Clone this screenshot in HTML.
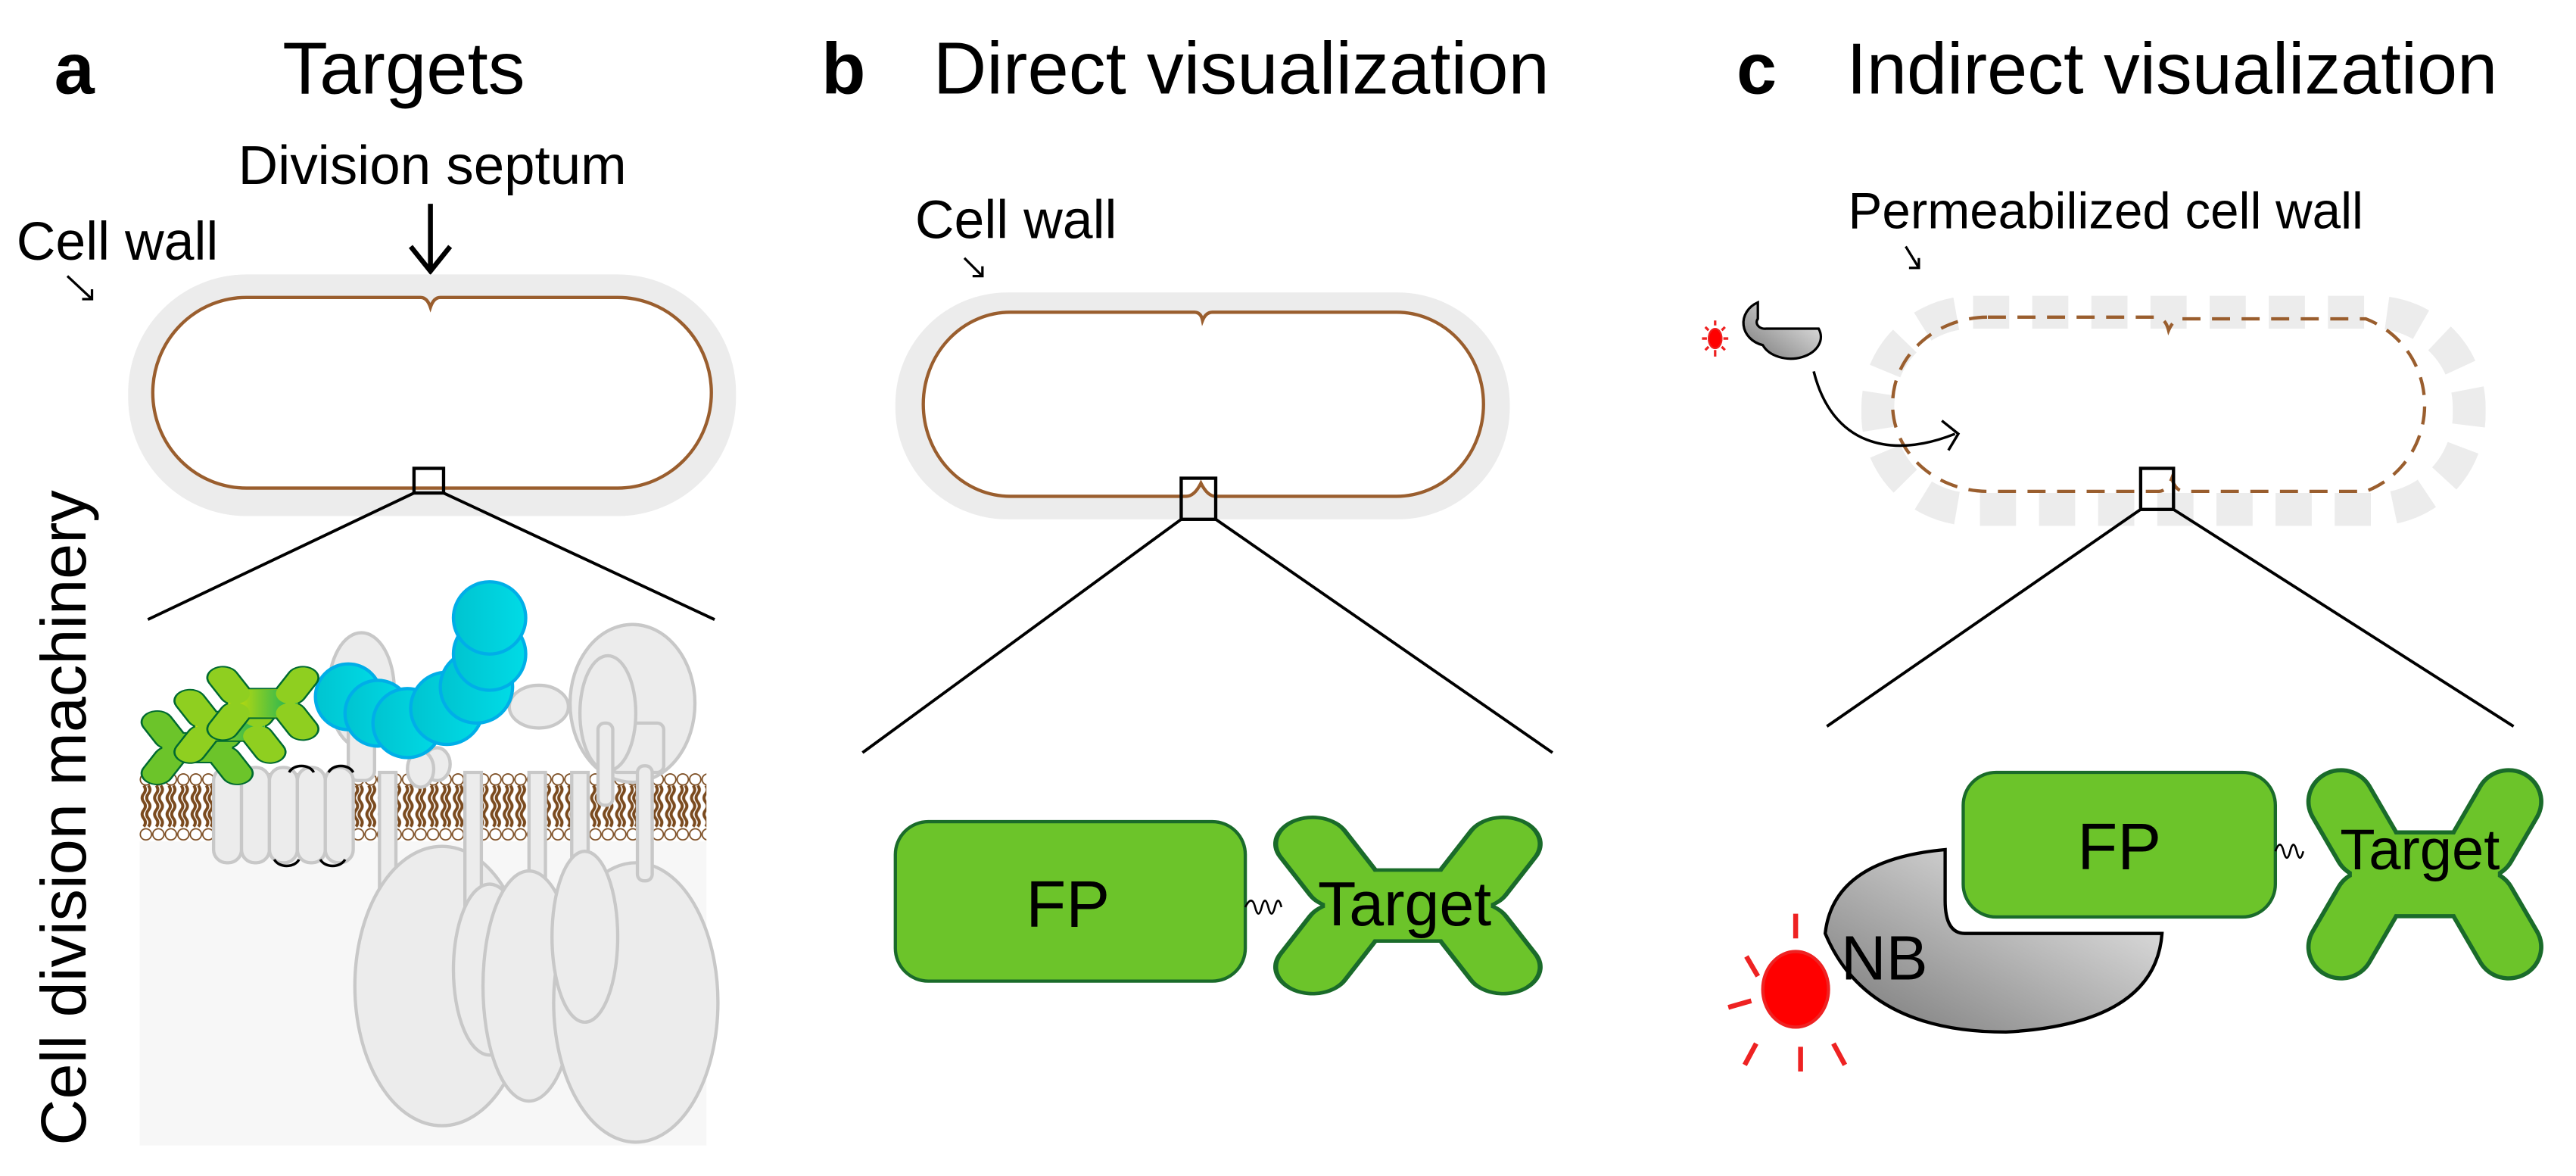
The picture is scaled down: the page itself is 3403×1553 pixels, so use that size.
<!DOCTYPE html>
<html><head><meta charset="utf-8"><style>
html,body{margin:0;padding:0;background:#fff;}
svg{display:block;}
text{font-family:"Liberation Sans",Arial,sans-serif;fill:#000;}
</style></head><body>
<svg width="3403" height="1553" viewBox="0 0 1568 715.6" preserveAspectRatio="none" xmlns="http://www.w3.org/2000/svg">
<defs>
<pattern id="lip" x="85" y="470" width="7.6" height="42" patternUnits="userSpaceOnUse">
<rect width="7.6" height="42" fill="#fff"/>
<path d="M2.5,8 q2,2.5 0,5 q-2,2.5 0,5 q2,2.5 0,5 q-2,2.5 0,5 q2,2.5 0,5 M5.3,8 q2,2.5 0,5 q-2,2.5 0,5 q2,2.5 0,5 q-2,2.5 0,5 q2,2.5 0,5" stroke="#7a4a1e" stroke-width="1.8" fill="none"/>
<circle cx="3.8" cy="4.3" r="3.4" fill="#fff" stroke="#7a4a1e" stroke-width="0.8"/>
<circle cx="3.8" cy="37.7" r="3.4" fill="#fff" stroke="#7a4a1e" stroke-width="0.8"/>
</pattern>
<linearGradient id="gg" x1="0" y1="0" x2="1" y2="0"><stop offset="0" stop-color="#d4e000"/><stop offset="1" stop-color="#10b060"/></linearGradient>
<linearGradient id="cy" x1="0" y1="0" x2="1" y2="0"><stop offset="0" stop-color="#00c4d0"/><stop offset="1" stop-color="#00dbe6"/></linearGradient>
<linearGradient id="nb" x1="0" y1="1" x2="1" y2="0"><stop offset="0" stop-color="#777"/><stop offset="1" stop-color="#f4f4f4"/></linearGradient>
<g id="boneS">
<rect x="-50" y="-28" width="100" height="56" rx="4"/>
<path d="M-40,-20 L-58,-52 M40,-20 L58,-52 M-40,20 L-58,52 M40,20 L58,52" stroke-width="42" stroke-linecap="round"/>
</g>
<g id="boneO">
<rect x="-52" y="-31" width="104" height="62" rx="4"/>
<path d="M-40,-20 L-58,-52 M40,-20 L58,-52 M-40,20 L-58,52 M40,20 L58,52" stroke-width="48" stroke-linecap="round"/>
</g>
</defs>

<!-- ===== Panel a ===== -->
<text x="33" y="57" font-size="44" font-weight="bold">a</text>
<text x="172" y="57" font-size="45">Targets</text>
<text x="145" y="112" font-size="33.5">Division septum</text>
<text x="10" y="158" font-size="33">Cell wall</text>
<path d="M41,168 L56,182 M50,182 H56 V176" stroke="#000" stroke-width="1.5" fill="none"/>
<path d="M262,124 V164 M250,150 L262,165 L274,150" stroke="#000" stroke-width="3" fill="none"/>
<rect x="78" y="167" width="370" height="147" rx="72" fill="#ececec"/>
<path d="M150,181 H256 q4,0 6,6 q2,-6 6,-6 H376 a57,58 0 0 1 0,116 H150 a57,58 0 0 1 0,-116 Z" fill="#fff" stroke="#9a5e2e" stroke-width="2"/>
<rect x="252" y="285" width="18" height="15" fill="none" stroke="#000" stroke-width="2"/>
<path d="M252,300 L90,377 M270,300 L435,377" stroke="#000" stroke-width="1.8"/>
<text transform="translate(52,697) rotate(-90)" font-size="39">Cell division machinery</text>
<rect x="85" y="510" width="345" height="187" fill="#f7f7f7"/>
<rect x="85" y="470" width="345" height="42" fill="url(#lip)"/>
<g fill="#ececec" stroke="#c8c8c8" stroke-width="2">
<ellipse cx="220" cy="420" rx="20" ry="35"/>
<rect x="212" y="430" width="16" height="45" rx="6"/>
<ellipse cx="385" cy="428" rx="38" ry="48"/>
<rect x="372" y="440" width="32" height="30" rx="4"/>
<ellipse cx="370" cy="434" rx="17" ry="35"/>
<rect x="364" y="440" width="9" height="50" rx="4"/>
<ellipse cx="328" cy="430" rx="18" ry="13"/>
<path d="M231,470 h10 v92 l20,-10 v40 h-30 Z"/>
<ellipse cx="269" cy="600" rx="53" ry="85"/>
<path d="M283,470 h10 v90 h-10 Z"/>
<ellipse cx="298" cy="590" rx="22" ry="52"/>
<path d="M322,470 h10 v80 h-10 Z"/>
<ellipse cx="322" cy="600" rx="28" ry="70"/>
<path d="M348,470 h10 v75 h-10 Z"/>
<ellipse cx="387" cy="610" rx="50" ry="85"/>
<ellipse cx="356" cy="570" rx="20" ry="52"/>
<rect x="388" y="466" width="9" height="70" rx="4"/>
<rect x="130" y="467" width="17" height="58" rx="8"/>
<rect x="147" y="467" width="17" height="58" rx="8"/>
<rect x="164" y="467" width="17" height="58" rx="8"/>
<rect x="181" y="467" width="17" height="58" rx="8"/>
<rect x="198" y="467" width="17" height="58" rx="8"/>
</g>
<g fill="none" stroke="#000" stroke-width="1.6">
<path d="M176,470 a8,6 0 0 1 15,0 M200,470 a8,6 0 0 1 15,0 M167,523 a8,6 0 0 0 15,0 M195,523 a8,6 0 0 0 15,0"/>
</g>
<g fill="#ececec" stroke="#c8c8c8" stroke-width="2">
<ellipse cx="266" cy="465" rx="8" ry="10"/>
<ellipse cx="256" cy="468" rx="8" ry="11"/>
</g>
<g fill="url(#cy)" stroke="#00aee8" stroke-width="2">
<circle cx="212" cy="424" r="20"/>
<circle cx="230" cy="434" r="20"/>
<circle cx="248" cy="440" r="21"/>
<circle cx="272" cy="431" r="22"/>
<circle cx="290" cy="418" r="22"/>
<circle cx="298" cy="398" r="22"/>
<circle cx="298" cy="376" r="22"/>
</g>
<g stroke="#006a30" fill="#006a30"><use href="#boneO" transform="translate(120,455) scale(0.42,0.3)"/></g>
<g fill="#6cc42a" stroke="#6cc42a"><use href="#boneS" transform="translate(120,455) scale(0.42,0.3)"/></g>
<g stroke="#006a30" fill="#006a30"><use href="#boneO" transform="translate(140,442) scale(0.42,0.3)"/></g>
<g fill="url(#gg)" stroke="#8fcf20"><use href="#boneS" transform="translate(140,442) scale(0.42,0.3)"/></g>
<g stroke="#006a30" fill="#006a30"><use href="#boneO" transform="translate(160,428) scale(0.42,0.3)"/></g>
<g fill="url(#gg)" stroke="#8fcf20"><use href="#boneS" transform="translate(160,428) scale(0.42,0.3)"/></g>

<!-- ===== Panel b ===== -->
<text x="500" y="57" font-size="44" font-weight="bold">b</text>
<text x="568" y="57" font-size="45">Direct visualization</text>
<text x="557" y="145" font-size="33">Cell wall</text>
<path d="M587,157 L598,168 M592,168 H598 V162" stroke="#000" stroke-width="1.5" fill="none"/>
<rect x="545" y="178" width="374" height="138" rx="68" fill="#ececec"/>
<path d="M615,190 H727 q4,0 5,5 q2,-5 6,-5 H850 a53,56 0 0 1 0,112 H740 q-5,0 -9,-8 q-4,8 -9,8 H615 a53,56 0 0 1 0,-112 Z" fill="#fff" stroke="#9a5e2e" stroke-width="2"/>
<rect x="719" y="291" width="21" height="25" fill="none" stroke="#000" stroke-width="2"/>
<path d="M719,316 L525,458 M740,316 L945,458" stroke="#000" stroke-width="1.8"/>
<rect x="545" y="500" width="213" height="97" rx="20" fill="#6cc42a" stroke="#1a6b2a" stroke-width="2"/>
<text x="650" y="564" font-size="40" text-anchor="middle">FP</text>
<path d="M758,552 q4,-8 6,0 q2,8 4,0 q2,-8 4,0 q2,8 4,0 q2,-8 4,0" stroke="#000" stroke-width="1.2" fill="none"/>
<g stroke="#1a6b2a" fill="#1a6b2a"><use href="#boneO" transform="translate(857,551) scale(1.0,0.72)"/></g>
<g fill="#6cc42a" stroke="#6cc42a"><use href="#boneS" transform="translate(857,551) scale(1.0,0.72)"/></g>
<text x="855" y="563" font-size="38" text-anchor="middle">Target</text>

<!-- ===== Panel c ===== -->
<text x="1057" y="57" font-size="44" font-weight="bold">c</text>
<text x="1124" y="57" font-size="44">Indirect visualization</text>
<text x="1125" y="139" font-size="31">Permeabilized cell wall</text>
<path d="M1160,150 L1168,163 M1162,163 H1168 V157" stroke="#000" stroke-width="1.5" fill="none"/>
<rect x="1143" y="190" width="360" height="120" rx="58" fill="none" stroke="#ececec" stroke-width="20" stroke-dasharray="22,14"/>
<path d="M1210,193 H1312 q6,0 8,8 q3,-7 8,-7 H1440 a55,56 0 0 1 0,105 H1330 q-6,0 -8,-8 q-3,8 -8,8 H1210 a58,53 0 0 1 0,-106 Z" fill="none" stroke="#9a5e2e" stroke-width="2" stroke-dasharray="11,7"/>
<rect x="1303" y="285" width="20" height="25" fill="none" stroke="#000" stroke-width="2"/>
<path d="M1303,310 L1112,442 M1323,310 L1530,442" stroke="#000" stroke-width="1.8"/>
<path d="M1104,226 C1115,270 1150,280 1190,264 M1182,256 L1192,264 L1186,274" stroke="#000" stroke-width="1.6" fill="none"/>
<path d="M1070,184 v10 a5,4 0 0 0 5,6 h32 a18,13 0 0 1 -34,10 a16,14 0 0 1 -3,-26 Z" fill="url(#nb)" stroke="#000" stroke-width="1.5"/>
<ellipse cx="1044" cy="206" rx="4" ry="6" fill="#ff0000" stroke="#e22" stroke-width="1"/>
<g stroke="#e22" stroke-width="1.5"><path d="M1044,195 v3 M1044,213 v4 M1036,206 h3 M1049,206 h3 M1038,199 l2,2 M1050,213 l-2,-2 M1038,213 l2,-2 M1050,199 l-2,2"/></g>
<path d="M1184,517 V548 q0,20 12,20 H1316 q-4,55 -95,60 q-85,0 -110,-60 q5,-45 73,-51 Z" fill="url(#nb)" stroke="#000" stroke-width="2"/>
<rect x="1195" y="470" width="190" height="88" rx="20" fill="#6cc42a" stroke="#1a6b2a" stroke-width="2"/>
<text x="1290" y="529" font-size="40" text-anchor="middle">FP</text>
<text x="1147" y="596" font-size="38" text-anchor="middle">NB</text>
<path d="M1385,518 q3,-8 5,0 q2,8 4,0 q2,-8 4,0 q2,8 4,0" stroke="#000" stroke-width="1.2" fill="none"/>
<g stroke="#1a6b2a" fill="#1a6b2a"><use href="#boneO" transform="translate(1476,532) scale(0.88,0.85)"/></g>
<g fill="#6cc42a" stroke="#6cc42a"><use href="#boneS" transform="translate(1476,532) scale(0.88,0.85)"/></g>
<text x="1473" y="529" font-size="35" text-anchor="middle">Target</text>
<ellipse cx="1093" cy="602" rx="20" ry="23" fill="#ff0000" stroke="#e22" stroke-width="2"/>
<g stroke="#e22" stroke-width="3"><path d="M1093,556 v15 M1096,637 v15 M1063,582 l7,12 M1052,613 l14,-4 M1062,648 l7,-13 M1116,635 l7,13"/></g>
</svg>
</body></html>
